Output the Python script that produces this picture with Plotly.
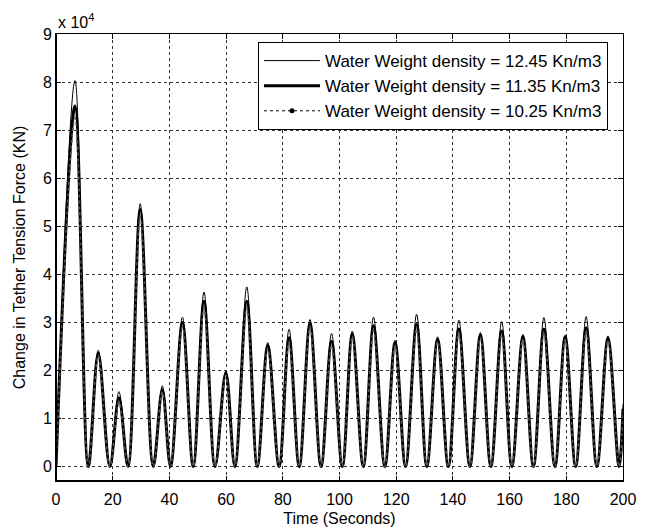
import plotly.graph_objects as go

# ---- data ----
peak_times = [6.7, 14.9, 22.2, 29.7, 37.5, 44.6, 52.2, 59.9, 67.3, 74.7, 82.2, 89.6, 97.2,
              104.5, 112.0, 119.6, 127.2, 134.6, 142.1, 149.7, 157.2, 164.7, 172.1, 179.6,
              187.0, 194.7]
trough_times = [0.0, 11.4, 19.0, 25.4, 34.3, 40.4, 48.4, 56.1, 63.1, 71.0, 78.7, 85.8, 93.5,
                101.0, 108.4, 116.0, 123.3, 130.8, 138.4, 146.0, 153.4, 160.8, 168.4, 176.0,
                183.3, 190.8, 198.6]
end_time = 200.0

# peak values (x 10^4 KN)
peaks_1245 = [8.03, 2.42, 1.56, 5.47, 1.68, 3.11, 3.63, 1.99, 3.74, 2.58, 2.86, 3.06, 2.77,
              2.82, 3.11, 2.63, 3.17, 2.70, 3.05, 2.79, 3.02, 2.75, 3.10, 2.73, 3.12, 2.72]
peaks_1135 = [7.50, 2.36, 1.43, 5.35, 1.60, 3.00, 3.44, 1.95, 3.44, 2.52, 2.68, 2.98, 2.61,
              2.76, 2.93, 2.58, 2.96, 2.65, 2.86, 2.74, 2.82, 2.70, 2.86, 2.70, 2.89, 2.67]
peaks_1025 = [7.25, 2.30, 1.35, 5.20, 1.55, 2.90, 3.30, 1.90, 3.30, 2.45, 2.58, 2.90, 2.52,
              2.70, 2.83, 2.52, 2.86, 2.60, 2.78, 2.68, 2.74, 2.64, 2.78, 2.64, 2.80, 2.62]
trough_value = 0.0
end_values = {"1245": 1.3, "1135": 1.2, "1025": 1.15}

names = ["Water Weight density = 12.45 Kn/m3",
         "Water Weight density = 11.35 Kn/m3",
         "Water Weight density = 10.25 Kn/m3"]

y_ticks = [0, 1, 2, 3, 4, 5, 6, 7, 8, 9]
x_ticks = [0, 20, 40, 60, 80, 100, 120, 140, 160, 180, 200]
SCALE = 1e4


def build(peaks, end_val):
    xs, ys = [], []
    for i, tt in enumerate(trough_times):
        xs.append(tt)
        ys.append(trough_value * SCALE)
        if i < len(peak_times):
            xs.append(peak_times[i])
            ys.append(peaks[i] * SCALE)
    xs.append(end_time)
    ys.append(end_val * SCALE)
    return xs, ys


fig = go.Figure()
x1, y1 = build(peaks_1245, end_values["1245"])
x2, y2 = build(peaks_1135, end_values["1135"])
x3, y3 = build(peaks_1025, end_values["1025"])

SM = 1.0
fig.add_trace(go.Scatter(x=x1, y=y1, mode="lines", name=names[0],
                         line=dict(color="black", width=1, shape="spline", smoothing=SM)))
fig.add_trace(go.Scatter(x=x2, y=y2, mode="lines", name=names[1],
                         line=dict(color="black", width=3, shape="spline", smoothing=SM)))
fig.add_trace(go.Scatter(x=x3, y=y3, mode="lines", name=names[2], showlegend=False,
                         line=dict(color="#555555", width=1.5, dash="dot", shape="spline",
                                   smoothing=SM)))
# legend entry for the dotted series with point marker
fig.add_trace(go.Scatter(x=[None], y=[None], mode="lines+markers", name=names[2],
                         line=dict(color="black", width=1, dash="dot"),
                         marker=dict(color="black", size=5)))

font = "Liberation Sans, Arial, sans-serif"

fig.update_layout(
    width=646, height=530,
    margin=dict(l=56, r=23, t=34, b=49),
    paper_bgcolor="white", plot_bgcolor="white",
    font=dict(family=font, size=16, color="black"),
    showlegend=True,
    legend=dict(x=0.9735, y=0.982, xanchor="right", yanchor="top",
                bgcolor="white", bordercolor="black", borderwidth=1,
                font=dict(size=17), tracegroupgap=0, itemwidth=56),
    xaxis=dict(range=[0, 200], tickvals=x_ticks, ticktext=[str(v) for v in x_ticks],
               ticks="inside", ticklen=5, tickcolor="black", showline=True,
               linecolor="black", linewidth=1, mirror="ticks", automargin=False,
               showgrid=True, gridcolor="#333333", griddash="dot", gridwidth=1,
               zeroline=False, tickfont=dict(size=16), ticklabelstandoff=4,
               title=dict(text="Time (Seconds)", standoff=5, font=dict(size=16))),
    yaxis=dict(range=[-3000, 90000], tickvals=[v * SCALE for v in y_ticks],
               ticktext=[str(v) for v in y_ticks], automargin=False,
               ticks="inside", ticklen=5, tickcolor="black", showline=True,
               linecolor="black", linewidth=1, mirror="ticks",
               showgrid=True, gridcolor="#333333", griddash="dot", gridwidth=1,
               zeroline=False, tickfont=dict(size=16),
               title=dict(text="Change in Tether Tension Force (KN)", standoff=13,
                          font=dict(size=16))),
    annotations=[dict(text="x 10<sup>4</sup>", xref="paper", yref="paper", x=0.0, y=1.0,
                      xanchor="left", yanchor="bottom", showarrow=False, yshift=1,
                      font=dict(size=16, family=font))],
    shapes=[dict(type="line", xref="paper", yref="paper", x0=0, x1=1, y0=0, y1=0,
                 line=dict(color="black", width=2)),
            dict(type="line", xref="paper", yref="paper", x0=0, x1=0, y0=0, y1=1,
                 line=dict(color="black", width=2))],
)

fig.write_html("out.html")
